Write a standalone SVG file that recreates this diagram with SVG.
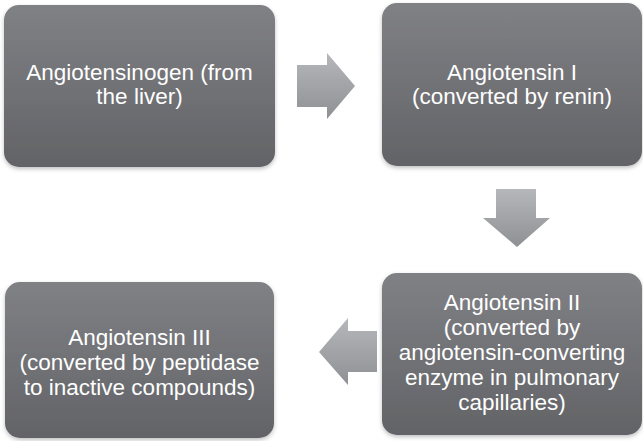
<svg xmlns="http://www.w3.org/2000/svg" width="643" height="441" viewBox="0 0 643 441">
<defs>
<linearGradient id="boxg" x1="0" y1="0" x2="0" y2="1">
<stop offset="0" stop-color="#808185"/>
<stop offset="1" stop-color="#626367"/>
</linearGradient>
<linearGradient id="arrg" x1="0" y1="0" x2="0" y2="1">
<stop offset="0" stop-color="#b6b7ba"/>
<stop offset="1" stop-color="#8f9094"/>
</linearGradient>
<filter id="sh" x="-5%" y="-5%" width="110%" height="115%">
<feDropShadow dx="0" dy="2" stdDeviation="2" flood-color="#000" flood-opacity="0.25"/>
</filter>
</defs>
<style>
.box{fill:url(#boxg);filter:url(#sh)}
.arr{fill:url(#arrg)}
text{font-family:"Liberation Sans",Arial,sans-serif;font-size:22.5px;fill:#ffffff;text-anchor:middle}
</style>
<rect width="643" height="441" fill="#ffffff"/>
<g id="connectors">
<polygon class="arr" points="297,65 327,65 327,53 355,86 327,119 327,107 297,107"/>
<polygon class="arr" points="496,189 536,189 536,218 550,218 517,247 483,218 496,218"/>
<polygon class="arr" points="377,331 348,331 348,318 319,352 348,385 348,372 377,372"/>
</g>
<g id="node1">
<rect class="box" x="4" y="5" width="271" height="162" rx="15"/>
<text x="139.5" y="80">Angiotensinogen (from</text>
<text x="139.5" y="104">the liver)</text>
</g>
<g id="node2">
<rect class="box" x="382" y="3" width="260" height="163" rx="15"/>
<text x="512" y="80">Angiotensin I</text>
<text x="512" y="104">(converted by renin)</text>
</g>
<g id="node3">
<rect class="box" x="382" y="273" width="260" height="162" rx="15"/>
<text x="512" y="310">Angiotensin II</text>
<text x="512" y="335">(converted by</text>
<text x="512" y="360">angiotensin-converting</text>
<text x="512" y="385">enzyme in pulmonary</text>
<text x="512" y="410">capillaries)</text>
</g>
<g id="node4">
<rect class="box" x="5" y="282" width="269" height="156" rx="15"/>
<text x="139.5" y="345">Angiotensin III</text>
<text x="139.5" y="370">(converted by peptidase</text>
<text x="139.5" y="395">to inactive compounds)</text>
</g>
</svg>
